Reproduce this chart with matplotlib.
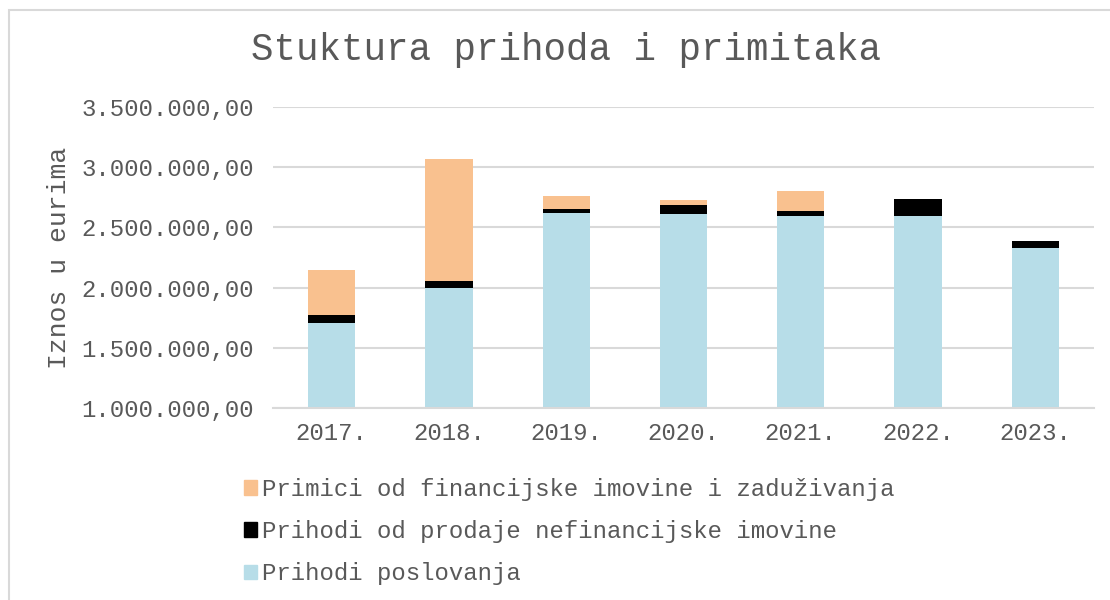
#%%
import numpy as np
import matplotlib.pyplot as plt
from matplotlib.patches import Rectangle, Patch
from matplotlib.ticker import FuncFormatter

#%%
# Podaci (procjena iz grafa)
godine = ['2017.', '2018.', '2019.', '2020.', '2021.', '2022.', '2023.']
prihodi_poslovanja = [1703600, 1993400, 2614000, 2606000, 2594000, 2594000, 2329000]
prihodi_nefin = [69000, 60000, 33000, 77000, 42000, 136000, 56000]
primici_fin = [372000, 1015000, 113000, 41000, 165000, 0, 0]

naziv_poslovanja = 'Prihodi poslovanja'
naziv_nefin = 'Prihodi od prodaje nefinancijske imovine'
naziv_fin = 'Primici od financijske imovine i zaduživanja'

#%%
plt.rcParams['font.family'] = ['Liberation Mono', 'DejaVu Sans Mono']
siva = '#595959'
boja_plava = '#B7DDE8'
boja_crna = '#000000'
boja_nar = '#F9C18F'

fig = plt.figure(figsize=(11.1, 6.0), dpi=100)
ax = fig.add_axes([273 / 1110, 1 - 408.3 / 600, 821 / 1110, 301.8 / 600])

x = np.arange(len(godine))
sirina = 0.404
plava = np.array(prihodi_poslovanja)
crna = np.array(prihodi_nefin)
nar = np.array(primici_fin)

ax.bar(x, plava, sirina, color=boja_plava, zorder=2)
ax.bar(x, crna, sirina, bottom=plava, color=boja_crna, zorder=2)
ax.bar(x, nar, sirina, bottom=plava + crna, color=boja_nar, zorder=2)

ax.set_xlim(-0.5, len(godine) - 0.5)
ax.set_ylim(1000000, 3500000)
ax.set_yticks(np.arange(1000000, 3500001, 500000))
ax.yaxis.set_major_formatter(FuncFormatter(
    lambda v, p: '{:,.2f}'.format(v).replace(',', 'X').replace('.', ',').replace('X', '.')))
ax.set_xticks(x)
ax.set_xticklabels(godine)
ax.tick_params(axis='y', length=0, pad=14, labelsize=17.3, labelcolor=siva)
ax.tick_params(axis='x', length=0, pad=10, labelsize=17.3, labelcolor=siva)
ax.grid(axis='y', color='#d9d9d9', linewidth=1.5, zorder=0)
for s in ax.spines.values():
    s.set_visible(False)
ax.spines['bottom'].set_visible(True)
ax.spines['bottom'].set_color('#d9d9d9')
ax.spines['bottom'].set_linewidth(1.5)

ax.set_ylabel('Iznos u eurima', fontsize=19, color=siva)
ax.yaxis.set_label_coords(-0.246, 0.5)

fig.text(566 / 1110, 1 - 50 / 600, 'Stuktura prihoda i primitaka',
         fontsize=27, color=siva, ha='center', va='center')

# Legenda
rucke = [Patch(color=boja_nar, label=naziv_fin),
         Patch(color=boja_crna, label=naziv_nefin),
         Patch(color=boja_plava, label=naziv_poslovanja)]
leg = fig.legend(handles=rucke, loc='upper left', bbox_to_anchor=(244 / 1110, 1 - 478 / 600),
                 frameon=False, fontsize=17.3, handlelength=0.55, handleheight=0.55,
                 handletextpad=0.2, labelspacing=0.8, borderaxespad=0, borderpad=0)
for t in leg.get_texts():
    t.set_color(siva)

# Okvir grafa
fig.patches.append(Rectangle((9 / 1110, -0.1), 1.2, 1 - 10 / 600 + 0.1,
                             transform=fig.transFigure, fill=False,
                             edgecolor='#d9d9d9', linewidth=1.5))

fig.savefig('out.png', dpi=100)
